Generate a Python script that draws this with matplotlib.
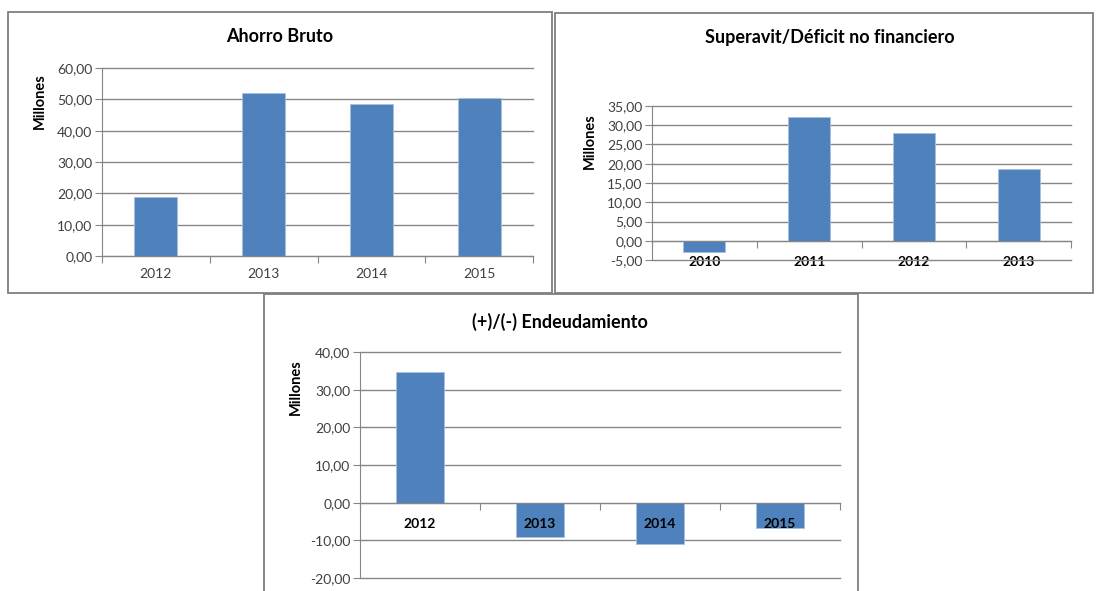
import matplotlib
import matplotlib.pyplot as plt
from matplotlib.patches import Rectangle
from matplotlib.ticker import FuncFormatter

matplotlib.rcParams['font.family'] = ['Lato', 'DejaVu Sans']

# datos (millones)
anios_ahorro = ['2012', '2013', '2014', '2015']
ahorro_bruto = [18.9, 51.9, 48.4, 50.4]

anios_superavit = ['2010', '2011', '2012', '2013']
superavit = [-2.9, 32.2, 28.0, 18.7]

anios_endeud = ['2012', '2013', '2014', '2015']
endeudamiento = [34.8, -9.1, -11.0, -6.6]

W, H = 1099, 591
AZUL = '#4F81BD'
GRIS = '#868686'

fig = plt.figure(figsize=(W / 100, H / 100), dpi=100)


def caja(x0, y0, x1, y1):
    # marco de cada grafico en pixeles
    r = Rectangle((x0 / W, 1 - y1 / H), (x1 - x0) / W, (y1 - y0) / H,
                  transform=fig.transFigure, fill=False,
                  edgecolor='#7f7f7f', linewidth=1.3)
    fig.add_artist(r)


def ejes(x0, y0, x1, y1):
    return fig.add_axes([x0 / W, 1 - y1 / H, (x1 - x0) / W, (y1 - y0) / H])


coma = FuncFormatter(lambda v, p: ('%.2f' % v).replace('.', ','))


def grafico(ax, cats, vals, ymin, ymax, paso, negrita, pad):
    n = len(cats)
    ax.bar(range(n), vals, width=0.4, color=AZUL, edgecolor='#a7c0de',
           linewidth=0.6, zorder=3)
    ax.set_xlim(-0.5, n - 0.5)
    ax.set_ylim(ymin, ymax)
    ax.set_yticks([ymin + i * paso for i in range(int(round((ymax - ymin) / paso)) + 1)])
    ax.yaxis.set_major_formatter(coma)
    ax.grid(axis='y', color=GRIS, linewidth=1.0, zorder=0)
    for g in ax.get_ygridlines():
        g.set_clip_on(False)
    for s in ['top', 'right']:
        ax.spines[s].set_visible(False)
    ax.spines['left'].set_color(GRIS)
    ax.spines['bottom'].set_color(GRIS)
    ax.spines['bottom'].set_position(('data', 0))
    ax.spines['bottom'].set_zorder(4)
    ax.set_xticks([i - 0.5 for i in range(n + 1)])
    ax.set_xticklabels([])
    ax.set_xticks(range(n), minor=True)
    ax.set_xticklabels(cats, minor=True)
    ax.tick_params(axis='x', which='major', direction='out', length=5,
                   color=GRIS)
    ax.tick_params(axis='x', which='minor', length=0, pad=pad,
                   labelsize=10, labelcolor='black' if negrita else '#404040')
    ax.tick_params(axis='y', direction='out', length=5, color=GRIS,
                   labelsize=10, labelcolor='#404040', pad=2)
    if negrita:
        for t in ax.get_xticklabels(minor=True):
            t.set_fontweight('bold')
    ax.set_facecolor('none')


# Ahorro Bruto
caja(8, 12, 552, 293)
ax1 = ejes(102, 68, 533, 256)
grafico(ax1, anios_ahorro, ahorro_bruto, 0, 60, 10, False, 9)
fig.text(280 / W, 1 - 37 / H, 'Ahorro Bruto', ha='center', va='center',
         fontsize=13, fontweight='bold')
fig.text(40 / W, 1 - 101 / H, 'Millones', ha='center', va='center',
         rotation=90, fontsize=10.5, fontweight='bold')

# Superavit/Deficit
caja(555, 13, 1093, 293)
ax2 = ejes(652, 106, 1071, 260)
grafico(ax2, anios_superavit, superavit, -5, 35, 5, True, 11)
fig.text(830 / W, 1 - 38 / H, 'Superavit/Déficit no financiero',
         ha='center', va='center', fontsize=13, fontweight='bold')
fig.text(590 / W, 1 - 141 / H, 'Millones', ha='center', va='center',
         rotation=90, fontsize=10.5, fontweight='bold')

# Endeudamiento
caja(264, 294, 858, 620)
ax3 = ejes(360, 352, 840, 578)
grafico(ax3, anios_endeud, endeudamiento, -20, 40, 10, True, 11)
ax3.xaxis.set_zorder(5)
fig.text(560 / W, 1 - 322 / H, '(+)/(-) Endeudamiento', ha='center',
         va='center', fontsize=13, fontweight='bold')
fig.text(296 / W, 1 - 387 / H, 'Millones', ha='center', va='center',
         rotation=90, fontsize=10.5, fontweight='bold')

plt.savefig('out.png', dpi=100)
